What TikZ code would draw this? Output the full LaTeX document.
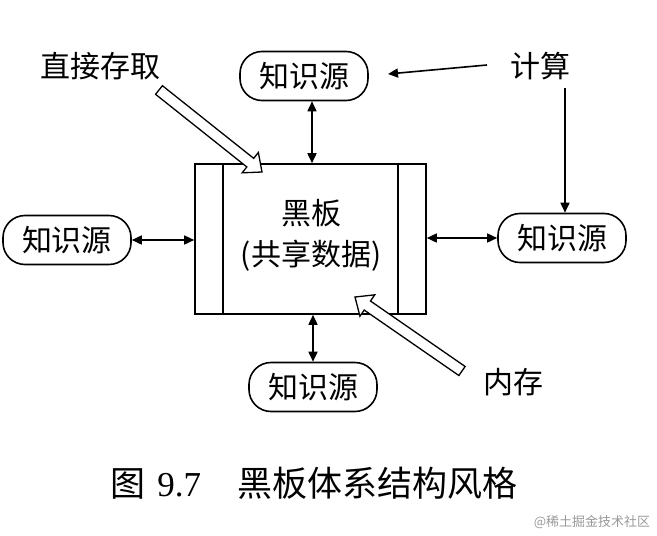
\documentclass[tikz,border=0pt]{standalone}
\usepackage{fontspec}
\setmainfont{Noto Sans CJK SC}
\newfontfamily\latinserif{Liberation Serif}
\usetikzlibrary{arrows.meta,calc}
\newcommand\hollowarrow[2]{%
 \draw[hollow] let \p1=($(#2)-(#1)$), \n1={atan2(\y1,\x1)}, \n2={veclen(\x1,\y1)} in
  [shift={(#1)}, rotate=\n1]
  (0pt,-5.5pt) -- ({(\n2-15)*1pt},-5.5pt) -- ({(\n2-15)*1pt},-13pt) -- ({\n2*1pt},0pt)
  -- ({(\n2-15)*1pt},13pt) -- ({(\n2-15)*1pt},5.5pt) -- (0pt,5.5pt) -- cycle;}
\begin{document}
\begin{tikzpicture}[x=1pt,y=-1pt,
  ks/.style={draw,line width=1.6pt,rounded corners=22pt,minimum width=128pt,minimum height=49pt,inner sep=0pt,font=\fontsize{30}{30}\selectfont},
  conn/.style={line width=1.6pt,{Triangle[length=10pt,width=9pt]}-{Triangle[length=10pt,width=9pt]}},
  oneway/.style={line width=1.6pt,-{Triangle[length=10pt,width=9pt]}},
  hollow/.style={line width=1.3pt,line join=miter,fill=white},
  lbl/.style={inner sep=0pt,font=\fontsize{30}{30}\selectfont},
  boardbox/.style={draw,line width=1.6pt,minimum width=231pt,minimum height=150pt,inner sep=0pt}
]
\useasboundingbox (0,0) rectangle (657,536);

% blackboard
\node[boardbox] (board) at (310.5,239) {};
\draw[line width=1.6pt] ($(board.north west)+(29pt,0)$) coordinate (bl1) -- (bl1 |- board.south);
\draw[line width=1.6pt] ($(board.north east)+(-29pt,0)$) coordinate (br1) -- (br1 |- board.south);
\node[lbl] (bbtitle) at (311,213) {黑板};
\node[lbl] (bbsub) at (311,256) {(共享数据)};

% knowledge sources
\node[ks] (top) at (304,76) {知识源};
\node[ks] (left) at (67,240) {知识源};
\node[ks] (right) at (562,238) {知识源};
\node[ks] (bottom) at (313,387) {知识源};

% connectors
\draw[conn] (board.north -| 312,0) -- (312,0 |- top.south);
\draw[conn] (left.east) -- (left.east -| board.west);
\draw[conn] (right.west -| board.east) -- (right.west);
\draw[conn] (313,0 |- board.south) -- (313,0 |- bottom.north);

% labels
\node[lbl] (jisuan) at (540,66) {计算};
\node[lbl] (zhijie) at (101,66) {直接存取};
\node[lbl] (neicun) at (513,382) {内存};

\coordinate (c0) at (487,65);
\coordinate (c1) at (388,74);
\draw[oneway] (c0) -- (c1);
\coordinate (c2) at (565,88);
\draw[oneway] (c2) -- (c2 |- right.north);

% hollow arrows
\coordinate (a1) at (159,90);
\coordinate (b1) at (262,172);
\hollowarrow{a1}{b1}
\coordinate (a2) at (462,371);
\coordinate (b2) at (355,297);
\hollowarrow{a2}{b2}

% caption
\node[inner sep=0pt,font=\fontsize{35}{35}\selectfont] (cap) at (314,483) {图\hspace{0.35em}{\latinserif 9.7}\hspace{1.05em}黑板体系结构风格};
\node[inner sep=0pt,text=black!40,font=\fontsize{13}{13}\selectfont] (wm) at (592,522) {@稀土掘金技术社区};
\end{tikzpicture}
\end{document}
